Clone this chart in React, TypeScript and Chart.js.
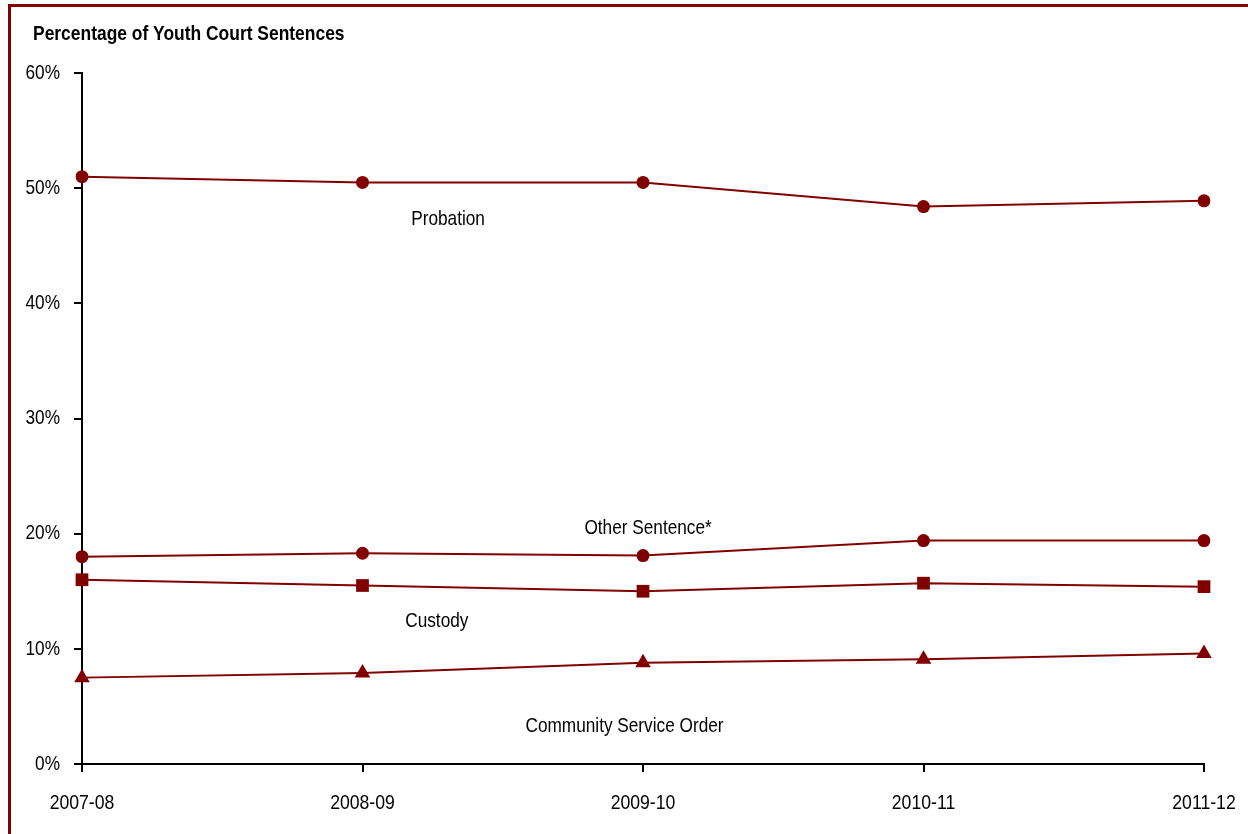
import React, { useEffect, useRef } from "react";
import { Chart, registerables } from "chart.js";

Chart.register(...registerables);

const categories = ["2007-08", "2008-09", "2009-10", "2010-11", "2011-12"];
const probation = [51.0, 50.5, 50.5, 48.4, 48.9];
const otherSentence = [18.0, 18.3, 18.1, 19.4, 19.4];
const custody = [16.0, 15.5, 15.0, 15.7, 15.4];
const communityService = [7.5, 7.9, 8.8, 9.1, 9.6];
const yTicks = [0, 10, 20, 30, 40, 50, 60];

const RED = "#800000";
const FONT = "'Liberation Sans', Arial, sans-serif";
const NARROW = 0.82;

const annotations = [
  { text: "Probation", xi: 1.305, yv: 47.3 },
  { text: "Other Sentence*", xi: 2.018, yv: 20.5 },
  { text: "Custody", xi: 1.265, yv: 12.4 },
  { text: "Community Service Order", xi: 1.934, yv: 3.25 },
];

function narrowText(ctx: any, text: string, x: number, y: number, align: string, factor = NARROW) {
  ctx.save();
  ctx.translate(x, y);
  ctx.scale(factor, 1);
  ctx.textAlign = align;
  ctx.fillText(text, 0, 0);
  ctx.restore();
}

export default function App() {
  const ref = useRef<HTMLCanvasElement | null>(null);

  useEffect(() => {
    if (!ref.current) return;
    const textPlugin = {
      id: "texts",
      afterDraw(chart: any) {
        const ctx = chart.ctx;
        const xs = chart.scales.x;
        const ys = chart.scales.y;
        ctx.save();
        ctx.fillStyle = "#000";
        ctx.textBaseline = "middle";
        ctx.font = `bold 21px ${FONT}`;
        narrowText(ctx, "Percentage of Youth Court Sentences", 33, 34, "left", 0.83);
        ctx.font = `21px ${FONT}`;
        for (const a of annotations) {
          narrowText(ctx, a.text, xs.getPixelForValue(a.xi), ys.getPixelForValue(a.yv), "center");
        }
        ys.ticks.forEach((t: any, i: number) => {
          narrowText(ctx, `${t.value}%`, 60, ys.getPixelForTick(i), "right");
        });
        xs.ticks.forEach((t: any, i: number) => {
          narrowText(ctx, categories[t.value], xs.getPixelForTick(i), 803, "center", 0.84);
        });
        ctx.restore();
      },
    };

    const mk = (label: string, data: number[], style: string, radius: number) => ({
      label,
      data,
      borderColor: RED,
      backgroundColor: RED,
      borderWidth: 2,
      pointStyle: style,
      pointRadius: radius,
      pointBackgroundColor: RED,
      pointBorderColor: RED,
      pointBorderWidth: 0,
      tension: 0,
    });

    const chart = new Chart(ref.current, {
      type: "line",
      data: {
        labels: categories,
        datasets: [
          mk("Probation", probation, "circle", 6.5),
          mk("Other Sentence*", otherSentence, "circle", 6.5),
          mk("Custody", custody, "rect", 9),
          mk("Community Service Order", communityService, "triangle", 9),
        ],
      },
      options: {
        responsive: false,
        animation: false,
        layout: { padding: { left: 0, right: 44, top: 73, bottom: 0 } },
        plugins: {
          legend: { display: false },
          title: { display: false },
          tooltip: { enabled: false },
        },
        scales: {
          x: {
            type: "category",
            offset: false,
            afterFit: (s: any) => {
              s.height = 70;
              s.paddingLeft = 0;
              s.paddingRight = 0;
            },
            grid: {
              display: true,
              drawOnChartArea: false,
              drawTicks: true,
              tickLength: 8,
              color: "#000",
              lineWidth: 2,
              offset: false,
            },
            border: { display: true, color: "#000", width: 2 },
            ticks: {
              color: "rgba(0,0,0,0)",
              padding: 19,
              maxRotation: 0,
              autoSkip: false,
              font: { family: FONT, size: 14 },
            },
          },
          y: {
            min: 0,
            max: 60,
            afterFit: (s: any) => {
              s.width = 82;
              s.paddingTop = 0;
              s.paddingBottom = 0;
            },
            afterBuildTicks: (s: any) => {
              s.ticks = yTicks.map((v) => ({ value: v }));
            },
            grid: {
              display: true,
              drawOnChartArea: false,
              drawTicks: true,
              tickLength: 8,
              color: "#000",
              lineWidth: 2,
            },
            border: { display: true, color: "#000", width: 2 },
            ticks: {
              color: "rgba(0,0,0,0)",
              padding: 13,
              callback: (v: any) => `${v}%`,
              font: { family: FONT, size: 14 },
            },
          },
        },
      },
      plugins: [textPlugin],
    });
    return () => chart.destroy();
  }, []);

  return (
    <div style={{ position: "absolute", left: 0, top: 0, width: 1248, height: 834, overflow: "hidden", background: "#fff" }}>
      <canvas ref={ref} width={1248} height={834} style={{ position: "absolute", left: 0, top: 0 }} />
      <div
        style={{
          position: "absolute",
          left: 8,
          top: 4,
          width: 1240,
          height: 830,
          boxSizing: "border-box",
          borderTop: `3px solid ${RED}`,
          borderLeft: `3px solid ${RED}`,
          pointerEvents: "none",
        }}
      />
    </div>
  );
}
